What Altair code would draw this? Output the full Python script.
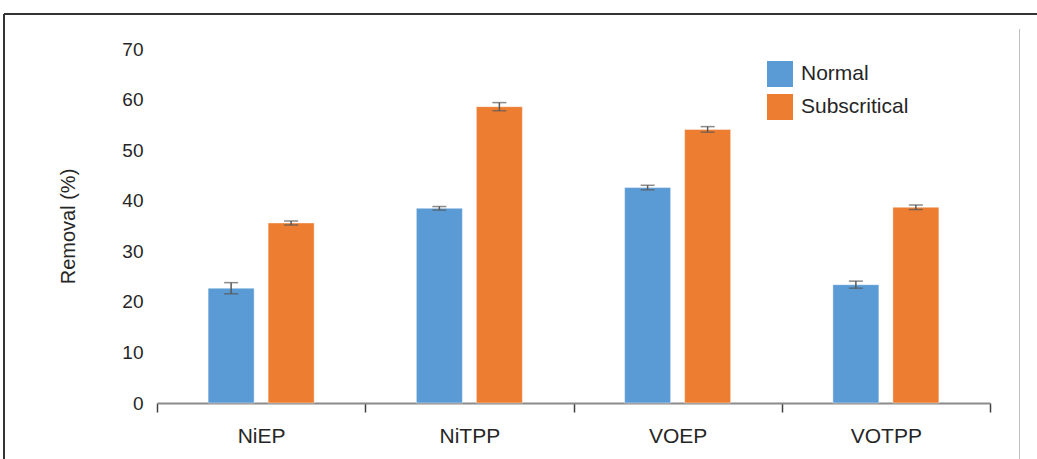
import altair as alt
import pandas as pd

# Porphyrin removal under normal and subcritical conditions
categories = ["NiEP", "NiTPP", "VOEP", "VOTPP"]
series = ["Normal", "Subscritical"]
normal_vals = [22.7, 38.5, 42.6, 23.4]
normal_err = [1.1, 0.35, 0.45, 0.7]
sub_vals = [35.6, 58.6, 54.1, 38.7]
sub_err = [0.4, 0.8, 0.55, 0.45]
y_ticks = [0, 10, 20, 30, 40, 50, 60, 70]
colors = ["#5B9BD5", "#ED7D31"]

rows = []
for i, c in enumerate(categories):
    for s, vals, errs in ((series[0], normal_vals, normal_err), (series[1], sub_vals, sub_err)):
        rows.append({"cat": c, "series": s, "value": vals[i],
                     "lo": vals[i] - errs[i], "hi": vals[i] + errs[i]})
df = pd.DataFrame(rows)

FONT = "Liberation Sans"
TXT = "#262626"

x_enc = alt.X("cat:N", sort=categories,
              scale=alt.Scale(paddingInner=0, paddingOuter=0),
              axis=alt.Axis(title=None, labelAngle=0, labelFontSize=21, labelFont=FONT,
                            labelColor=TXT, labelPadding=13, tickBand="extent",
                            tickSize=9, tickColor="#404040", tickWidth=1.5,
                            domainColor="#8a8a8a", domainWidth=2, grid=False))
xoff = alt.XOffset("series:N", sort=series,
                   scale=alt.Scale(paddingInner=0.233, paddingOuter=0.852))

base = alt.Chart(df)

bars = base.mark_bar(stroke="#ffffff", strokeWidth=0.6, strokeOpacity=0.7).encode(
    x=x_enc,
    xOffset=xoff,
    y=alt.Y("value:Q", scale=alt.Scale(domain=[0, 70], nice=False),
            axis=alt.Axis(title="Removal (%)", values=y_ticks, labelFontSize=19,
                          labelFont=FONT, labelColor=TXT, labelPadding=14,
                          ticks=False, tickSize=0, domain=False, grid=False,
                          titleFont=FONT, titleFontSize=20, titleFontWeight="normal",
                          titleColor=TXT, titlePadding=43)),
    color=alt.Color("series:N", sort=series,
                    scale=alt.Scale(domain=series, range=colors),
                    legend=alt.Legend(title=None, orient="none", legendX=610, legendY=12,
                                      symbolType="square", symbolSize=676,
                                      symbolStrokeWidth=0, labelFontSize=21,
                                      labelFont=FONT, labelColor=TXT, labelOffset=8,
                                      rowPadding=7)),
)

err_rule = base.mark_rule(color="#595959", strokeWidth=1.5).encode(
    x=alt.X("cat:N", sort=categories), xOffset=xoff,
    y="lo:Q", y2="hi:Q",
)
cap_lo = base.mark_tick(color="#595959", thickness=1.5, size=14).encode(
    x=alt.X("cat:N", sort=categories), xOffset=xoff, y="lo:Q",
)
cap_hi = base.mark_tick(color="#595959", thickness=1.5, size=14).encode(
    x=alt.X("cat:N", sort=categories), xOffset=xoff, y="hi:Q",
)

# Page frame lines around the figure
one = alt.Chart(pd.DataFrame({"k": [0]}))
frame_top = one.mark_rule(color="#333333", strokeWidth=2).encode(
    x=alt.value(-153), x2=alt.value(890), y=alt.value(-35))
frame_left = one.mark_rule(color="#333333", strokeWidth=2).encode(
    x=alt.value(-153), y=alt.value(-35), y2=alt.value(415))
frame_right = one.mark_rule(color="#c0c0c0", strokeWidth=1).encode(
    x=alt.value(862.5), y=alt.value(-20), y2=alt.value(415))

chart = alt.layer(bars, err_rule, cap_lo, cap_hi, frame_top, frame_left, frame_right).properties(
    width=833, height=354,
    autosize=alt.AutoSizeParams(type="none"),
    padding={"left": 157, "top": 49, "right": 47, "bottom": 56},
    background="#ffffff",
).configure_view(stroke=None)

chart.save("out.html", embed_options={"renderer": "svg", "actions": False})
